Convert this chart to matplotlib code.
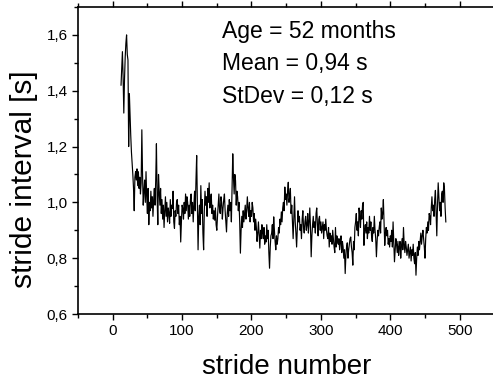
import numpy as np
import matplotlib.pyplot as plt
from matplotlib.ticker import MultipleLocator, FuncFormatter

# stride interval series (strides 12..480)
first_stride = 12
stride_interval = [
    1.42, 1.48, 1.54, 1.45, 1.32, 1.44, 1.52, 1.57, 1.60, 1.53,
    1.51, 1.20, 1.39, 1.31, 1.24, 1.18, 1.14, 1.10, 1.05, 0.97,
    1.09, 1.11, 1.08, 1.12, 1.06, 1.11, 1.05, 1.09, 1.03, 1.07,
    1.26, 1.10, 0.99, 1.04, 1.08, 1.00, 1.11, 1.02, 0.96, 1.05,
    0.92, 1.00, 0.97, 1.04, 0.98, 1.02, 0.95, 1.01, 1.05, 0.99,
    1.08, 1.21, 1.02, 0.92,
    1.10, 1.04, 0.99, 1.05, 0.96, 1.01, 0.94, 0.99, 0.91, 0.97,
    1.02, 0.95, 1.00, 0.93, 0.98, 0.96, 0.925, 1.01, 0.95, 0.99,
    0.978, 1.04, 0.93, 0.907, 0.97, 0.95, 1.00, 1.01, 0.96, 0.99,
    0.92, 0.95, 0.858, 0.93, 0.99, 0.978, 0.94, 1.00, 0.96, 1.03,
    0.97, 1.02, 1.00, 0.94, 0.99, 0.95, 1.01, 1.03, 0.96, 1.00,
    0.93, 0.99, 1.04, 0.97, 1.08, 1.168, 1.00, 0.83, 0.95, 0.99,
    0.92, 1.06, 0.96, 1.01, 0.89, 0.83, 0.97, 1.04, 0.99, 1.02,
    0.95, 1.05, 1.00, 1.07, 0.98, 1.01, 1.03, 0.96, 0.99, 0.94,
    0.97, 0.936, 0.98, 0.92, 0.90, 0.95, 0.99, 1.03, 0.97, 0.96,
    1.02, 1.00, 0.94, 0.98, 1.01, 1.03, 0.97, 0.93, 0.894, 0.96,
    0.99, 0.95, 1.01, 0.97, 1.00, 0.93, 1.06, 1.174, 1.09, 1.03,
    1.10, 1.078, 0.99, 1.04, 1.02, 0.97, 1.00, 0.93, 0.818, 0.90,
    0.95, 0.91, 0.97, 0.93, 0.96, 0.99, 0.94, 0.97, 1.02, 0.98,
    0.95, 1.00, 0.93, 0.97, 0.95, 1.00, 0.98, 0.93, 0.96, 0.90,
    0.94, 0.91, 0.86, 0.889, 0.93, 0.88, 0.836, 0.90, 0.87, 0.92,
    0.89, 0.87, 0.91, 0.85, 0.88, 0.858, 0.92, 0.87, 0.90, 0.82,
    0.764, 0.84, 0.88, 0.889, 0.92, 0.87, 0.948, 0.90, 0.86, 0.83,
    0.88, 0.85, 0.87, 0.91, 0.89, 0.94, 0.92, 0.966, 0.93, 0.98,
    1.00, 0.97, 1.055, 1.01, 1.03, 0.99, 1.04, 1.072, 1.00, 1.02,
    1.05, 0.96, 0.99, 0.93, 0.87, 0.95, 1.02, 0.93, 0.89, 0.84,
    0.91, 0.97, 0.93, 0.95, 0.90, 0.92, 0.87, 0.94, 0.97, 0.91,
    0.89, 0.93, 0.95, 0.90, 0.92, 0.96, 0.89, 0.93, 0.98, 0.91,
    0.805, 0.88, 0.92, 0.95, 0.91, 0.93, 0.89, 0.96, 0.98, 0.92,
    0.88, 0.94, 0.95, 0.90, 0.93, 0.89, 0.91, 0.93, 0.87, 0.92,
    0.90, 0.94, 0.90, 0.88, 0.87, 0.91, 0.84, 0.89, 0.86, 0.88,
    0.85, 0.90, 0.87, 0.84, 0.82, 0.91, 0.84, 0.88, 0.86, 0.85,
    0.87, 0.83, 0.86, 0.88, 0.82, 0.86, 0.84, 0.80, 0.83, 0.745,
    0.81, 0.84, 0.855, 0.80, 0.83, 0.85, 0.87, 0.876, 0.84, 0.82,
    0.775, 0.86, 0.83, 0.91, 0.93, 0.96, 0.90, 0.93, 0.88, 0.98,
    0.95, 0.91, 0.97, 0.94, 0.99, 1.00, 0.846, 0.90, 0.92, 0.89,
    0.93, 0.87, 0.91, 0.89, 0.95, 0.90, 0.93, 0.88, 0.86, 0.91,
    0.89, 0.95, 0.90, 0.87, 0.805, 0.86, 0.90, 0.88, 0.91, 0.93,
    0.89, 0.98, 0.94, 0.96, 1.01, 0.93, 0.846, 0.89, 0.91, 0.88,
    0.90, 0.85, 0.87, 0.84, 0.88, 0.86, 0.90, 0.84, 0.93, 0.86,
    0.787, 0.83, 0.87, 0.85, 0.82, 0.86, 0.81, 0.84, 0.86, 0.80,
    0.84, 0.87, 0.83, 0.91, 0.85, 0.82, 0.86, 0.84, 0.81, 0.83,
    0.85, 0.80, 0.82, 0.84, 0.79, 0.83, 0.81, 0.85, 0.80, 0.78,
    0.82, 0.739, 0.80, 0.84, 0.81, 0.86, 0.83, 0.86, 0.89, 0.85,
    0.88, 0.90, 0.87, 0.84, 0.80, 0.87, 0.91, 0.89, 0.93, 0.90,
    0.96, 0.95, 0.92, 0.98, 1.02, 0.97, 0.99, 0.95, 1.01, 1.043,
    0.96, 0.88, 0.99, 1.07, 1.02, 0.97, 1.00, 0.95, 1.03, 1.04,
    1.00, 1.07, 1.05, 0.98, 0.93,
]
stride_number = np.arange(first_stride, first_stride + len(stride_interval))

info_lines = ["Age = 52 months", "Mean = 0,94 s", "StDev = 0,12 s"]

plt.rcParams['font.family'] = ['Liberation Sans', 'DejaVu Sans']

fig = plt.figure(figsize=(4.93, 3.90), dpi=100)
ax = fig.add_axes([78 / 493, 1 - 314 / 390, 416.4 / 493, 307 / 390])

ax.plot(stride_number, stride_interval, color='black', linewidth=0.85)

ax.set_xlim(-50, 550)
ax.set_ylim(0.6, 1.7)
ax.xaxis.set_major_locator(MultipleLocator(100))
ax.xaxis.set_minor_locator(MultipleLocator(50))
ax.yaxis.set_major_locator(MultipleLocator(0.2))
ax.yaxis.set_minor_locator(MultipleLocator(0.1))
ax.yaxis.set_major_formatter(FuncFormatter(lambda v, p: f"{v:.1f}".replace('.', ',')))

ax.tick_params(which='both', direction='out', labelsize=11, width=1, top=True)
ax.tick_params(which='major', length=4)
ax.tick_params(which='minor', length=3)
for sp in ax.spines.values():
    sp.set_linewidth(1.2)

ax.set_xlabel('stride number', fontsize=20, labelpad=11)
ax.set_ylabel('stride interval [s]', fontsize=21.5)
ax.yaxis.set_label_coords(-0.096, 0.44)

for i, line in enumerate(info_lines):
    ax.text(0.345, 0.92 - i * 0.105, line, transform=ax.transAxes,
            fontsize=16.5, ha='left', va='center')

fig.savefig('out.png', dpi=100)
